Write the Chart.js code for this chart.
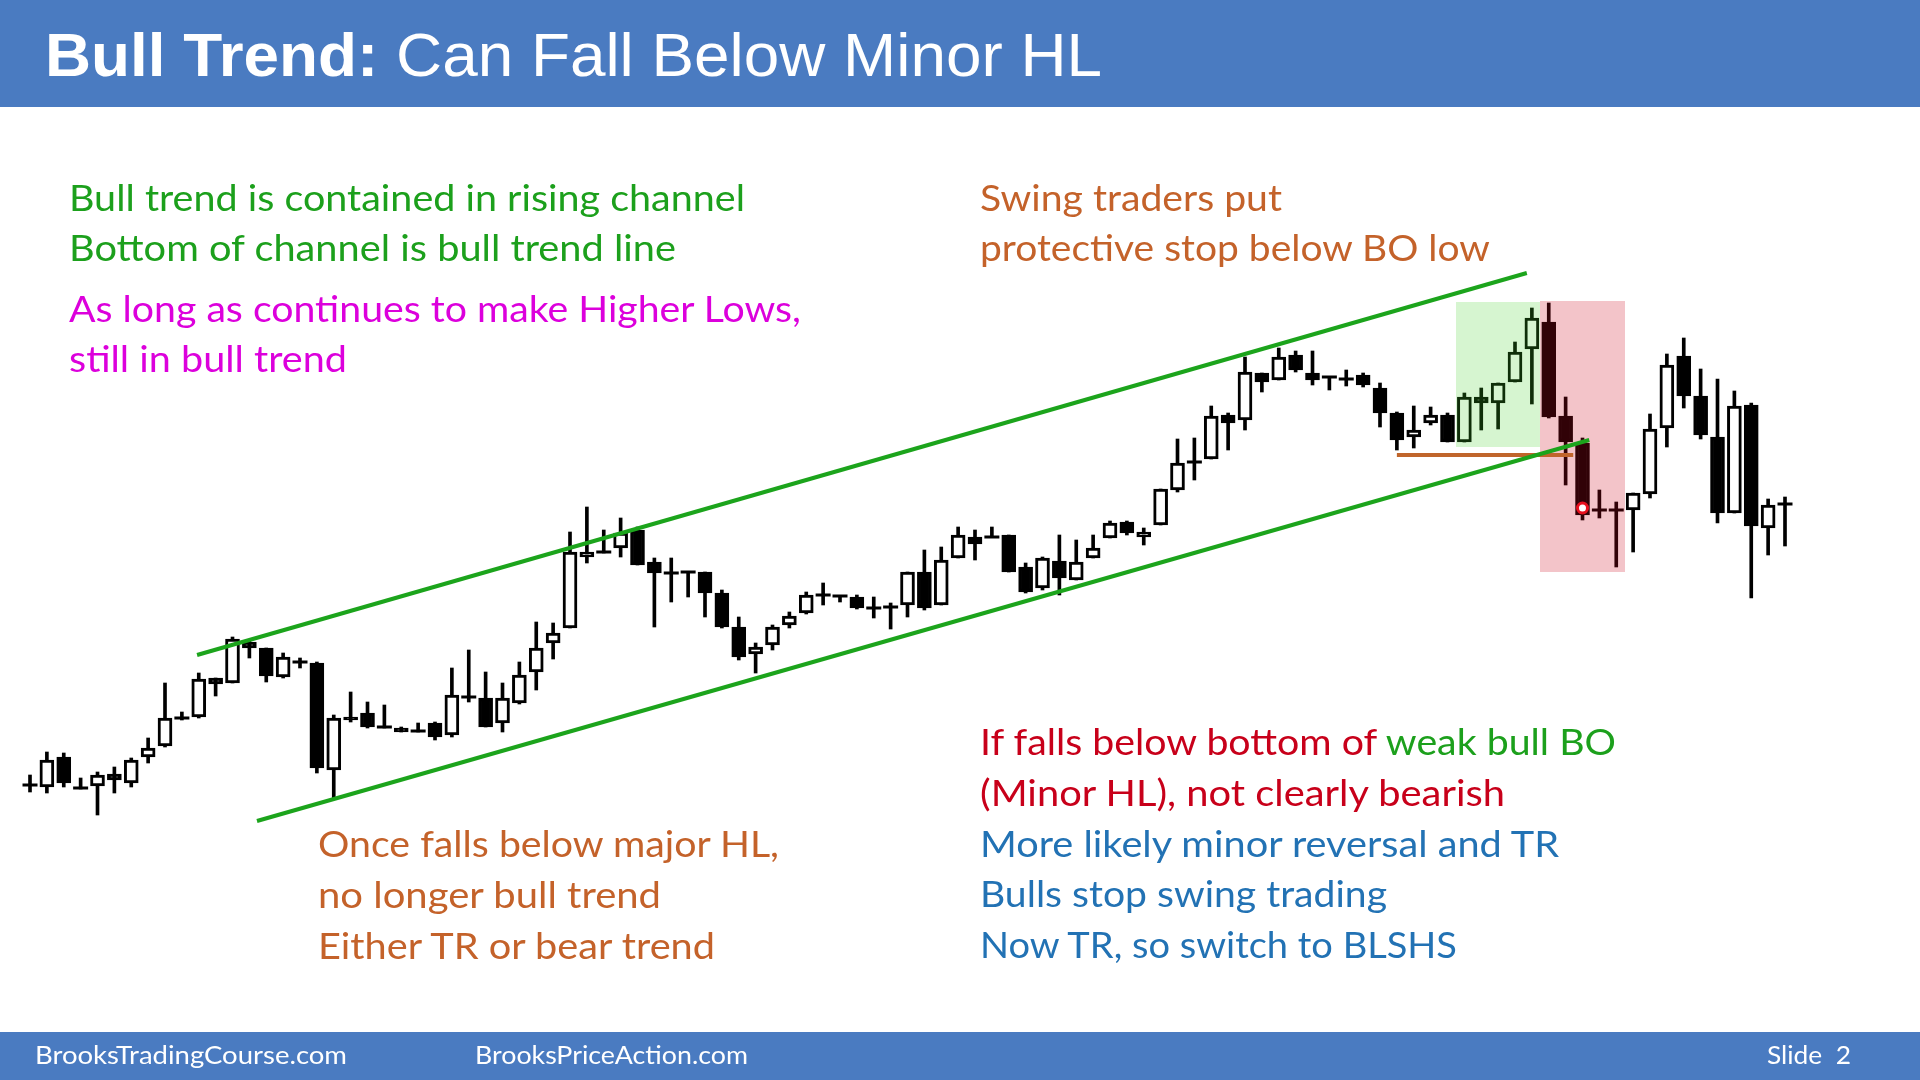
<!DOCTYPE html>
<html>
<head>
<meta charset="utf-8">
<script src="https://cdn.jsdelivr.net/npm/chart.js@4.4.1/dist/chart.umd.min.js"></script>
<style>
  html, body { margin: 0; padding: 0; background: #fff; }
  #slide { position: relative; width: 1920px; height: 1080px; overflow: hidden; background: #fff; }
  .band { position: absolute; left: 0; width: 1920px; background: #4a7bc1; }
  #chartBox { position: absolute; left: 0; top: 108px; width: 1920px; height: 924px; }
  svg { position: absolute; left: 0; top: 0; pointer-events: none; }
</style>
</head>
<body>
<div id="slide">
  <div class="band" style="top:0;height:107px"></div>
  <div class="band" style="top:1032px;height:48px"></div>
  <div id="chartBox"><canvas id="candles" width="1920" height="924"></canvas></div>

  <svg width="1920" height="1080" font-family="Lato, 'Open Sans', sans-serif" font-size="36">
    <text x="45" y="76" font-family="'Liberation Sans', Arial, sans-serif" font-size="62" fill="#fff"
          textLength="1057" lengthAdjust="spacingAndGlyphs"><tspan font-weight="bold">Bull Trend:</tspan> Can Fall Below Minor HL</text>

    <g fill="#1ca01c">
      <text x="69" y="211" textLength="676" lengthAdjust="spacingAndGlyphs">Bull trend is contained in rising channel</text>
      <text x="69" y="261" textLength="607" lengthAdjust="spacingAndGlyphs">Bottom of channel is bull trend line</text>
    </g>
    <g fill="#dc00dc">
      <text x="69" y="322" textLength="732" lengthAdjust="spacingAndGlyphs">As long as continues to make Higher Lows,</text>
      <text x="69" y="372" textLength="278" lengthAdjust="spacingAndGlyphs">still in bull trend</text>
    </g>
    <g fill="#c4622a">
      <text x="980" y="211" textLength="302" lengthAdjust="spacingAndGlyphs">Swing traders put</text>
      <text x="980" y="261" textLength="510" lengthAdjust="spacingAndGlyphs">protective stop below BO low</text>
      <text x="318" y="857" textLength="461" lengthAdjust="spacingAndGlyphs">Once falls below major HL,</text>
      <text x="318" y="908" textLength="343" lengthAdjust="spacingAndGlyphs">no longer bull trend</text>
      <text x="318" y="959" textLength="397" lengthAdjust="spacingAndGlyphs">Either TR or bear trend</text>
    </g>
    <text x="980" y="755" textLength="636" lengthAdjust="spacingAndGlyphs"><tspan fill="#c8001a">If falls below bottom of </tspan><tspan fill="#1ca01c">weak bull BO</tspan></text>
    <text x="980" y="806" fill="#c8001a" textLength="525" lengthAdjust="spacingAndGlyphs">(Minor HL), not clearly bearish</text>
    <g fill="#2272b4">
      <text x="980" y="857" textLength="579" lengthAdjust="spacingAndGlyphs">More likely minor reversal and TR</text>
      <text x="980" y="907" textLength="407" lengthAdjust="spacingAndGlyphs">Bulls stop swing trading</text>
      <text x="980" y="958" textLength="477" lengthAdjust="spacingAndGlyphs">Now TR, so switch to BLSHS</text>
    </g>

    <g fill="#fff" font-size="25">
      <text x="35" y="1064" textLength="312" lengthAdjust="spacingAndGlyphs">BrooksTradingCourse.com</text>
      <text x="475" y="1064" textLength="273" lengthAdjust="spacingAndGlyphs">BrooksPriceAction.com</text>
      <text x="1767" y="1064" textLength="84" lengthAdjust="spacingAndGlyphs" xml:space="preserve">Slide  2</text>
    </g>
  </svg>
</div>

<script>
// bar values (price units, higher = up)
var opens = [215,213,243,212,214,226,217,243,254,282, 283,322,317,358,352,323,338,337,230,283,
  287,273,272,269,277,265,303,302,277,297, 328,357,372,443,448,452,470,438,427,428,
  428,407,373,346,355,375,387,405,404,403, 392,393,395,428,395,442,463,463,465,433,
  412,439,420,442,462,478,463,475,510,538, 541,585,580,627,620,645,627,623,621,625,
  612,587,563,577,585,558,603,597,618,651, 678,584,557,490,490,490,506,572,644,604,
  563,487,595,472,496];
var highs = [225,248,247,222,228,233,242,262,317,288, 327,322,363,359,352,347,342,338,285,308,
  298,295,273,277,278,332,350,328,317,338, 378,377,468,493,470,482,473,442,442,428,
  428,410,383,357,375,388,408,417,404,405, 403,397,428,450,453,473,470,473,465,437,
  443,465,460,465,479,479,472,511,561,562, 594,587,643,627,652,649,649,623,630,627,
  617,588,594,593,587,607,612,617,658,692, 697,603,562,510,498,507,586,646,662,631,
  621,609,597,501,503];
var lows = [208,207,213,211,185,207,213,237,253,280, 282,304,317,342,318,322,332,227,202,278,
  272,272,268,268,260,263,298,273,268,296, 310,341,372,437,447,443,435,373,398,403,
  383,372,340,327,350,372,386,395,398,391, 382,371,383,390,395,442,440,463,428,407,
  410,405,420,442,462,465,455,475,508,520, 541,550,570,608,620,628,615,610,614,613,
  573,550,552,575,558,558,570,571,618,596, 582,515,480,482,433,448,502,553,592,561,
  477,487,402,445,454];
var closes = [215,240,217,212,225,220,240,252,282,282, 321,316,361,352,324,343,338,232,282,280,
  273,273,268,269,263,305,303,273,302,325, 352,367,448,448,448,467,435,427,427,428,
  407,373,343,353,373,384,405,405,404,392, 392,393,428,392,440,465,456,463,428,408,
  442,422,438,452,477,467,468,511,537,538, 584,577,628,618,643,630,620,623,621,615,
  587,560,570,585,558,603,597,617,648,682, 583,558,485,490,490,507,571,635,604,565,
  487,594,474,495,496];

// drawn lines and shaded zones, as [bar index, price]
var upperChannel = [[9.9, 345], [88.7, 727]];
var lowerChannel = [[13.45, 179], [92.4, 560]];
var minorHL = [[81.0, 545], [91.45, 545]];
var breakoutZone = {from: 84.5, to: 89.48, top: 698, bottom: 553};
var sellZone = {from: 89.48, to: 94.52, top: 699, bottom: 428};
var cursorMark = [92.0, 492];

var idx = opens.map(function (_, i) { return i; });
var wickData = idx.map(function (i) { return {x: i, y: [lows[i], highs[i]]}; });
var bodyData = idx.map(function (i) {
    return {x: i, y: [Math.min(opens[i], closes[i]), Math.max(opens[i], closes[i])]};
});
var bodyColors = idx.map(function (i) { return closes[i] >= opens[i] ? '#ffffff' : '#000000'; });
var dojiData = idx.filter(function (i) { return Math.abs(opens[i] - closes[i]) < 1; })
    .map(function (i) { return {x: i, y: closes[i]}; });

function pts(arr) { return arr.map(function (p) { return {x: p[0], y: p[1]}; }); }
function zone(z, color) {
    return {
        type: 'line', data: [{x: z.from, y: z.top}, {x: z.to, y: z.top}],
        fill: {value: z.bottom}, backgroundColor: color, borderWidth: 0,
        pointRadius: 0, order: 2
    };
}
function trendLine(arr, color) {
    return {
        type: 'line', data: pts(arr), borderColor: color, borderWidth: 4,
        pointRadius: 0, fill: false, order: 1
    };
}

var ctx = document.getElementById('candles').getContext('2d');
new Chart(ctx, {
    type: 'bar',
    data: {
        datasets: [
            {data: wickData, backgroundColor: '#000', barThickness: 3, grouped: false, order: 5},
            {data: bodyData, backgroundColor: bodyColors, borderColor: '#000', borderWidth: 3,
             borderSkipped: false, barThickness: 14, grouped: false, order: 4},
            {type: 'line', data: dojiData, showLine: false, pointStyle: 'line', pointRadius: 7.5,
             pointBorderWidth: 3, pointBorderColor: '#000', borderColor: '#000', order: 3},
            zone(breakoutZone, 'rgba(68, 209, 41, 0.22)'),
            zone(sellZone, 'rgba(205, 10, 30, 0.24)'),
            trendLine(upperChannel, '#1ca41c'),
            trendLine(lowerChannel, '#1ca41c'),
            trendLine(minorHL, '#c0652b'),
            {type: 'line', data: [{x: cursorMark[0], y: cursorMark[1]}], showLine: false,
             pointRadius: 5, pointBackgroundColor: '#fff', pointBorderColor: '#e8101e',
             pointBorderWidth: 3, order: 0}
        ]
    },
    options: {
        responsive: false,
        animation: false,
        events: [],
        layout: {padding: 0, autoPadding: false},
        plugins: {legend: {display: false}, tooltip: {enabled: false}},
        scales: {
            x: {type: 'linear', min: -1.778, max: 112.0, display: false, offset: false,
                grid: {offset: false}},
            y: {min: -32, max: 892, display: false}
        }
    }
});
</script>
</body>
</html>
